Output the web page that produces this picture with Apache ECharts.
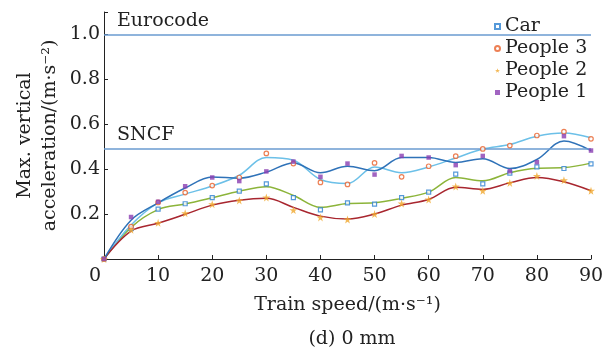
<!DOCTYPE html>
<html>
<head>
<meta charset="utf-8">
<script src="https://cdn.jsdelivr.net/npm/echarts@6/dist/echarts.min.js"></script>
<style>
  html, body { margin: 0; padding: 0; background: #fff; }
  #chart { width: 611px; height: 354px; }
</style>
</head>
<body>
<div id="chart"></div>
<script>
// speeds (m/s)
const speeds = [0, 5, 10, 15, 20, 25, 30, 35, 40, 45, 50, 55, 60, 65, 70, 75, 80, 85, 90];

// measured points
const carPts     = [0, 0.135, 0.222, 0.246, 0.273, 0.302, 0.335, 0.273, 0.219, 0.250, 0.244, 0.273, 0.298, 0.378, 0.335, 0.382, 0.410, 0.403, 0.424];
const people3Pts = [0, 0.144, 0.252, 0.296, 0.327, 0.363, 0.470, 0.425, 0.341, 0.332, 0.428, 0.366, 0.413, 0.458, 0.490, 0.505, 0.550, 0.567, 0.535];
const people2Pts = [0, 0.130, 0.161, 0.204, 0.244, 0.261, 0.274, 0.218, 0.185, 0.176, 0.200, 0.247, 0.265, 0.323, 0.304, 0.339, 0.370, 0.351, 0.304];
const people1Pts = [0, 0.187, 0.255, 0.324, 0.363, 0.347, 0.390, 0.434, 0.366, 0.425, 0.376, 0.459, 0.452, 0.418, 0.459, 0.391, 0.431, 0.547, 0.483];

// fitted curves
const carFit     = [0, 0.141, 0.220, 0.245, 0.273, 0.302, 0.322, 0.283, 0.230, 0.247, 0.250, 0.270, 0.298, 0.363, 0.348, 0.384, 0.404, 0.407, 0.427];
const people3Fit = [0, 0.151, 0.250, 0.289, 0.325, 0.373, 0.452, 0.440, 0.354, 0.336, 0.410, 0.384, 0.410, 0.450, 0.490, 0.510, 0.547, 0.561, 0.540];
const people2Fit = [0, 0.124, 0.159, 0.199, 0.240, 0.262, 0.270, 0.230, 0.191, 0.178, 0.200, 0.240, 0.265, 0.319, 0.310, 0.339, 0.363, 0.344, 0.304];
const people1Fit = [0, 0.173, 0.250, 0.316, 0.365, 0.360, 0.387, 0.428, 0.384, 0.413, 0.393, 0.452, 0.452, 0.430, 0.447, 0.403, 0.443, 0.526, 0.483];

// limits
const eurocodeLimit = 1.0;
const sncfLimit = 0.49;

const xTicks = [0, 10, 20, 30, 40, 50, 60, 70, 80, 90];
const yTicks = [0, 0.2, 0.4, 0.6, 0.8, 1.0];

const FONT = "DejaVu Serif";
const INK = "#222";
const STAR = "path://M50,0 L61,35 L98,35 L68,57 L79,91 L50,70 L21,91 L32,57 L2,35 L39,35 Z";

const pairs = (ys) => speeds.map((x, i) => [x, ys[i]]);

const fitLine = (name, ys, color) => ({
  name: name,
  type: "line",
  data: pairs(ys),
  smooth: 0.35,
  showSymbol: false,
  lineStyle: { color: color, width: 1.5 },
  itemStyle: { color: color },
  z: 2,
  silent: true,
});

const chart = echarts.init(document.getElementById("chart"));

chart.setOption({
  animation: false,
  textStyle: { fontFamily: FONT },
  grid: { left: 104, right: 20, top: 12, bottom: 95 },
  title: {
    text: "(d) 0 mm",
    left: 347,
    textAlign: "center",
    top: 325,
    textStyle: { fontFamily: FONT, fontSize: 19, fontWeight: "normal", color: INK },
  },
  legend: {
    orient: "vertical",
    left: 489,
    top: 12,
    itemWidth: 5,
    itemHeight: 5,
    itemGap: 3,
    textStyle: { fontFamily: FONT, fontSize: 19, color: INK },
    data: ["Car", "People 3", "People 2", "People 1"],
  },
  xAxis: {
    type: "value",
    min: 0,
    max: 90,
    interval: 10,
    name: "Train speed/(m·s⁻¹)",
    nameLocation: "middle",
    nameGap: 37,
    nameMoveOverlap: false,
    nameTextStyle: { fontFamily: FONT, fontSize: 19, color: INK },
    axisLine: { lineStyle: { color: INK, width: 1 } },
    axisTick: { inside: true, length: 4, lineStyle: { color: INK }, customValues: xTicks },
    splitLine: { show: false },
    axisLabel: {
      fontFamily: FONT,
      fontSize: 19,
      color: INK,
      margin: 8,
      customValues: xTicks,
      formatter: (v) => (v === 0 ? "{o|0}" : String(v)),
      rich: { o: { fontFamily: FONT, fontSize: 19, color: INK, padding: [0, 18, 0, 0] } },
    },
  },
  yAxis: {
    type: "value",
    min: 0,
    max: 1.1,
    interval: 0.2,
    name: "Max. vertical\nacceleration/(m·s⁻²)",
    nameLocation: "middle",
    nameGap: 41,
    nameMoveOverlap: false,
    nameTextStyle: { fontFamily: FONT, fontSize: 19, color: INK, lineHeight: 25 },
    axisLine: { show: true, lineStyle: { color: INK, width: 1 } },
    axisTick: { show: true, inside: true, length: 4, lineStyle: { color: INK }, customValues: [0, 0.2, 0.4, 0.6, 0.8, 1.0, 1.1] },
    splitLine: { show: false },
    axisLabel: {
      fontFamily: FONT,
      fontSize: 19,
      color: INK,
      margin: 4,
      customValues: yTicks,
      formatter: (v) => (v === 0 ? "" : v.toFixed(1)),
    },
  },
  series: [
    {
      name: "limits",
      type: "line",
      data: [],
      markLine: {
        silent: true,
        symbol: "none",
        lineStyle: { color: "#6a9bd0", width: 1.5, type: "solid" },
        label: {
          position: "insideStartTop",
          fontFamily: FONT,
          fontSize: 19,
          color: INK,
          distance: [13, 4],
          formatter: (p) => p.name,
        },
        data: [
          { name: "Eurocode", yAxis: eurocodeLimit },
          { name: "SNCF", yAxis: sncfLimit },
        ],
      },
    },
    fitLine("Car fit", carFit, "#8cb43a"),
    fitLine("People 3 fit", people3Fit, "#6cc0e8"),
    fitLine("People 2 fit", people2Fit, "#a8262f"),
    fitLine("People 1 fit", people1Fit, "#2f72b8"),
    {
      name: "Car",
      type: "scatter",
      data: pairs(carPts),
      symbol: "rect",
      symbolSize: 4,
      itemStyle: { color: "#fff", borderColor: "#2a7fd0", borderWidth: 1.2 },
      z: 5,
    },
    {
      name: "People 3",
      type: "scatter",
      data: pairs(people3Pts),
      symbol: "circle",
      symbolSize: 4.5,
      itemStyle: { color: "#fff", borderColor: "#e8602a", borderWidth: 1.2 },
      z: 5,
    },
    {
      name: "People 2",
      type: "scatter",
      data: pairs(people2Pts),
      symbol: STAR,
      symbolSize: 8,
      itemStyle: { color: "#f0a72e" },
      z: 5,
    },
    {
      name: "People 1",
      type: "scatter",
      data: pairs(people1Pts),
      symbol: "rect",
      symbolSize: 4.5,
      itemStyle: { color: "#8a3db2" },
      z: 5,
    },
  ],
});
</script>
</body>
</html>
